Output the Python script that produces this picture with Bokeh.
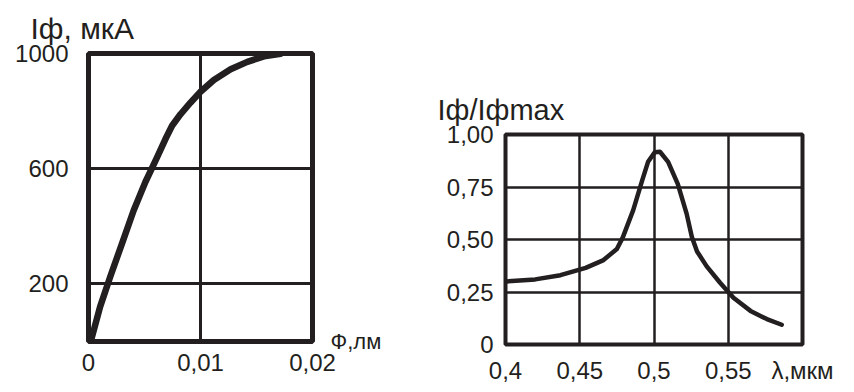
from bokeh.plotting import figure
from bokeh.layouts import row, column
from bokeh.models import Range1d, FixedTicker, Spacer, Title, LinearAxis
from bokeh.embed import file_html
from bokeh.resources import INLINE

# ---- data: left chart (photocurrent vs luminous flux) ----
flux = [0.0002, 0.00104, 0.00194, 0.00299, 0.00403, 0.00507, 0.00612, 0.00687,
        0.00746, 0.00821, 0.0091, 0.0100, 0.01119, 0.01269, 0.01418, 0.01567, 0.01716]
current = [0, 121, 225, 340, 455, 553, 639, 703, 749, 789, 829, 867, 908, 945, 971, 990, 999]
left_xticks = [0, 0.01, 0.02]
left_xlabels = ["0", "0,01", "0,02"]
left_yticks = [200, 600, 1000]
left_ylabels = ["200", "600", "1000"]
left_title = "Iф, мкА"
left_unit = "Ф,лм"

# ---- data: right chart (relative spectral response) ----
wavelength = [0.400, 0.420, 0.437, 0.454, 0.466, 0.475, 0.479, 0.486, 0.492, 0.496,
              0.5005, 0.504, 0.5095, 0.516, 0.522, 0.5255, 0.529, 0.5355, 0.5445,
              0.5535, 0.565, 0.576, 0.586]
response = [0.300, 0.310, 0.330, 0.365, 0.402, 0.455, 0.510, 0.640, 0.780, 0.870,
            0.915, 0.918, 0.870, 0.765, 0.622, 0.512, 0.443, 0.372, 0.294,
            0.223, 0.160, 0.121, 0.094]
right_xticks = [0.4, 0.45, 0.5, 0.55, 0.6]
right_xlabels = ["0,4", "0,45", "0,5", "0,55", "λ,мкм"]
right_yticks = [0, 0.25, 0.5, 0.75, 1.0]
right_ylabels = ["0", "0,25", "0,50", "0,75", "1,00"]
right_title = "Iф/Iфmax"

INK = "#231f20"
FONT = "Liberation Sans"


def style_axis(ax, ticks, labels, standoff, size="24px"):
    ax.ticker = FixedTicker(ticks=ticks)
    ax.major_label_overrides = dict(zip(ticks, labels))
    ax.axis_line_color = None
    ax.major_tick_line_color = None
    ax.minor_tick_line_color = None
    ax.major_label_text_font = FONT
    ax.major_label_text_font_size = size
    ax.major_label_text_color = INK
    ax.major_label_standoff = standoff


def style(p, xticks, xlabels, yticks, ylabels, xgrid, ygrid, outline_w, grid_w,
          xstand, ystand):
    p.outline_line_color = INK
    p.outline_line_width = outline_w
    p.outline_line_alpha = 1.0
    p.background_fill_color = "white"
    p.border_fill_color = "white"
    style_axis(p.xaxis[0], xticks, xlabels, xstand)
    style_axis(p.yaxis[0], yticks, ylabels, ystand)
    p.xgrid.ticker = FixedTicker(ticks=xgrid)
    p.ygrid.ticker = FixedTicker(ticks=ygrid)
    for g in (p.xgrid, p.ygrid):
        g.grid_line_color = INK
        g.grid_line_width = grid_w
        g.grid_line_alpha = 1.0


def add_title(p, text, size, offset, standoff):
    p.add_layout(Title(text=text, align="left", offset=offset, standoff=standoff,
                       text_font=FONT, text_font_size=size,
                       text_font_style="normal", text_color=INK), "above")


# ---- left figure ----
p1 = figure(width=427, height=392, output_backend="svg", toolbar_location=None,
            x_range=Range1d(0, 0.02), y_range=Range1d(0, 1000),
            min_border_left=88, min_border_right=115, min_border_top=53,
            min_border_bottom=51)
style(p1, left_xticks, left_xlabels, left_yticks, left_ylabels,
      [0.01], [200, 600], 5, 3, 6, 14)
p1.line(flux, current, line_color=INK, line_width=6.5, line_join="round",
        line_cap="round")
add_title(p1, left_title, "30px", -58, 17)
unit_axis = LinearAxis()
style_axis(unit_axis, [0], [left_unit], 12, "22px")
p1.add_layout(unit_axis, "right")

# ---- right figure ----
p2 = figure(width=427, height=311, output_backend="svg", toolbar_location=None,
            x_range=Range1d(0.4, 0.6), y_range=Range1d(0, 1.0),
            min_border_left=78, min_border_right=52, min_border_top=53,
            min_border_bottom=48)
style(p2, right_xticks, right_xlabels, right_yticks, right_ylabels,
      [0.45, 0.5, 0.55], [0.25, 0.5, 0.75], 4, 2.5, 6, 6)
p2.line(wavelength, response, line_color=INK, line_width=4.5, line_join="round",
        line_cap="round")
add_title(p2, right_title, "29px", -68, 17)

layout = row(p1, column(Spacer(width=427, height=81), p2))
open("out.html", "w").write(file_html(layout, INLINE))
